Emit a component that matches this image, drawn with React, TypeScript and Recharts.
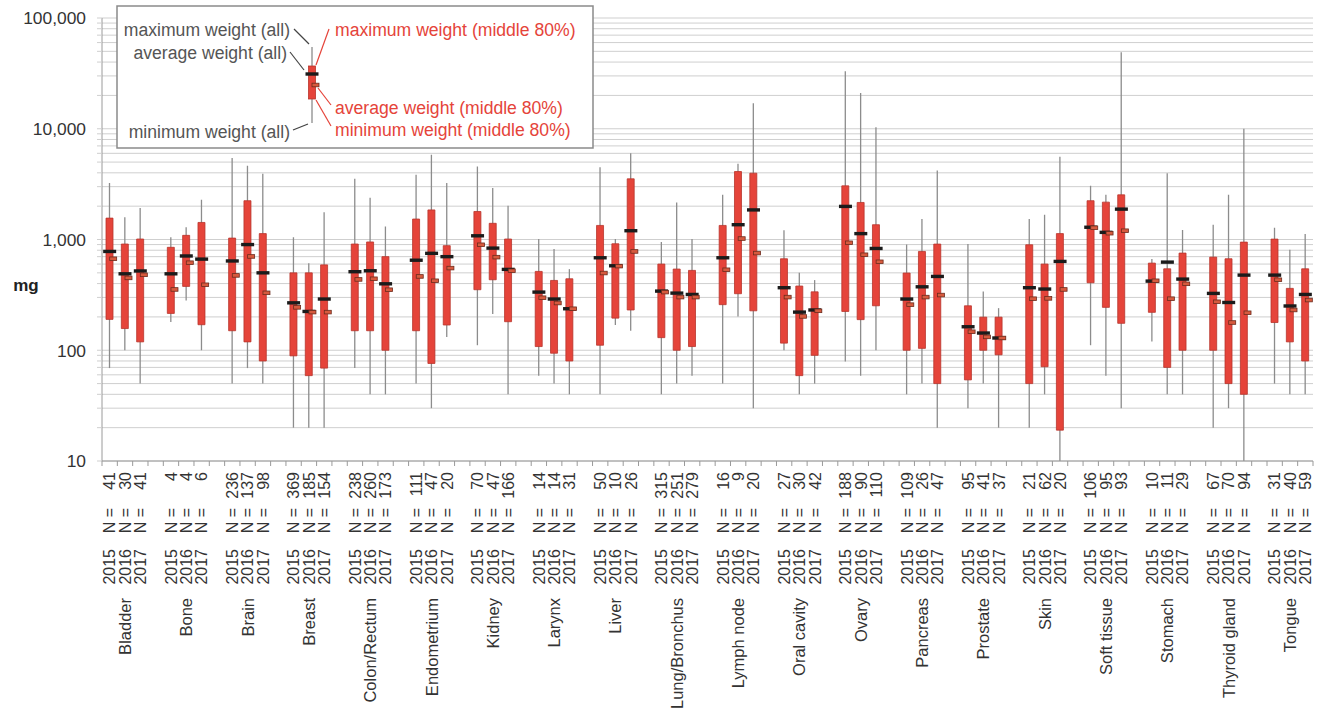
import { Bar, CartesianGrid, ComposedChart, Scatter, XAxis, YAxis } from "recharts";

// one entry per organ, three years each (2015, 2016, 2017)
const organs = [
  "Bladder", "Bone", "Brain", "Breast", "Colon/Rectum", "Endometrium", "Kidney",
  "Larynx", "Liver", "Lung/Bronchus", "Lymph node", "Oral cavity", "Ovary",
  "Pancreas", "Prostate", "Skin", "Soft tissue", "Stomach", "Thyroid gland", "Tongue",
];
const years = ["2015", "2016", "2017"];

const nCounts = [
  41, 30, 41, 4, 4, 6, 236, 137, 98, 369, 185, 154, 238, 260, 173,
  111, 47, 20, 70, 47, 166, 14, 14, 31, 50, 10, 26, 315, 251, 279,
  16, 9, 20, 27, 30, 42, 188, 90, 110, 109, 26, 47, 95, 41, 37,
  21, 62, 20, 106, 95, 93, 10, 11, 29, 67, 70, 94, 31, 40, 59,
];

// weights in mg
const maxAll = [
  3230, 1590, 1920, 1050, 1290, 2280, 5430, 4630, 3920, 1050, 610, 1760, 3530, 2380, 1310,
  3840, 5820, 3230, 4560, 2910, 2020, 1010, 820, 540, 4500, 1010, 6020, 950, 2160, 1010,
  2530, 4820, 17000, 1210, 500, 430, 33000, 21000, 10300, 900, 1530, 4200, 910, 340, 240,
  1530, 1670, 5600, 3050, 2530, 49000, 665, 3970, 1220, 1360, 2530, 10000, 1280, 810, 1120,
];
const boxHigh = [
  1560, 910, 1010, 850, 1090, 1425, 1030, 2240, 1130, 500, 500, 590, 910, 950, 700,
  1530, 1850, 880, 1790, 1400, 1010, 515, 427, 442, 1340, 915, 3530, 600, 541, 526,
  1340, 4110, 3970, 670, 380, 337, 3050, 2160, 1360, 498, 780, 909, 252, 199, 199,
  896, 600, 1130, 2240, 2175, 2530, 612, 544, 754, 693, 670, 947, 1008, 362, 544,
];
const avgAll = [
  780, 490, 520, 490, 710, 665, 640, 900, 500, 268, 224, 290, 512, 522, 398,
  650, 750, 700, 1080, 836, 537, 335, 290, 237, 684, 579, 1200, 342, 328, 319,
  684, 1360, 1850, 367, 221, 231, 1990, 1130, 830, 290, 374, 464, 163, 143, 129,
  367, 357, 634, 1290, 1160, 1880, 421, 625, 439, 326, 270, 477, 477, 251, 319,
];
const avgMid = [
  670, 450, 480, 354, 617, 390, 474, 703, 330, 244, 221, 221, 436, 442, 352,
  464, 424, 552, 896, 693, 522, 298, 267, 237, 498, 575, 780, 335, 302, 302,
  533, 1020, 754, 302, 202, 227, 934, 728, 629, 258, 302, 315, 147, 132, 129,
  292, 294, 354, 1276, 1140, 1200, 424, 292, 398, 274, 178, 218, 433, 231, 284,
];
const boxLow = [
  190, 157, 119, 215, 377, 170, 150, 119, 80, 89, 59, 69, 150, 150, 100,
  150, 76, 169, 352, 433, 181, 108, 94, 80, 111, 195, 231, 130, 100, 108,
  258, 324, 227, 116, 59, 90, 224, 189, 252, 100, 104, 50, 54, 100, 91,
  50, 71, 19, 407, 244, 175, 220, 70, 100, 100, 50, 40, 178, 119, 80,
];
const minAll = [
  69, 100, 50, 180, 282, 100, 50, 69, 50, 20, 20, 20, 69, 40, 40,
  50, 30, 132, 111, 212, 40, 59, 50, 40, 40, 169, 150, 40, 50, 59,
  50, 202, 30, 100, 40, 50, 79, 59, 100, 40, 50, 20, 30, 50, 20,
  20, 40, 10, 111, 59, 30, 120, 40, 40, 20, 30, 10, 50, 40, 40,
];

const yTicks = [10, 100, 1000, 10000]
  .flatMap((d) => [1, 2, 3, 4, 5, 6, 7, 8, 9].map((m) => m * d))
  .concat(100000);

type Row = {
  key: string;
  organ?: string;
  year?: string;
  n?: number;
  whisker?: [number, number];
  box?: [number, number];
  avgAll?: number;
  avgMid?: number;
  mid?: boolean;
};

// empty slot between organs
const rows: Row[] = [];
organs.forEach((organ, i) => {
  years.forEach((year, j) => {
    const k = i * 3 + j;
    rows.push({
      key: `${organ} ${year}`,
      organ,
      year,
      n: nCounts[k],
      whisker: [minAll[k], maxAll[k]],
      box: [boxLow[k], boxHigh[k]],
      avgAll: avgAll[k],
      avgMid: avgMid[k],
      mid: j === 1,
    });
  });
  if (i < organs.length - 1) rows.push({ key: `gap-${i}` });
});

const W = 1318;
const H = 715;
const MARGIN = { top: 18, right: 5, bottom: 14, left: 10 };
const Y_AXIS_W = 92;
const PLOT_W = W - MARGIN.left - MARGIN.right - Y_AXIS_W;
const SLOT = PLOT_W / rows.length;
const FONT = "'Liberation Sans', Arial, sans-serif";
const GRID = "#cfcfcf";
const AXIS = "#9a9a9a";
const RED = "#e5443a";

function YTick(props: any) {
  const { x, y, payload } = props;
  const v = payload.value as number;
  if (![10, 100, 1000, 10000, 100000].includes(v)) return <g />;
  return (
    <text x={x} y={y} dy="0.36em" textAnchor="end" fontSize={17.4} fill="#333" fontFamily={FONT}>
      {v.toLocaleString("en-US")}
    </text>
  );
}

function XTick(props: any) {
  const { x, y, payload } = props;
  const idx = payload.index ?? props.index;
  const row = rows[idx];
  const left = x - SLOT / 2;
  const txt = (dy: number, s: string | number, size = 16) => (
    <text
      transform={`translate(${x},${y + dy}) rotate(-90)`}
      textAnchor="end"
      dy="0.36em"
      fontSize={size}
      fill="#333"
      fontFamily={FONT}
    >
      {s}
    </text>
  );
  return (
    <g>
      <line x1={left} x2={left} y1={y} y2={y + 5} stroke={AXIS} />
      {idx === rows.length - 1 ? (
        <line x1={x + SLOT / 2} x2={x + SLOT / 2} y1={y} y2={y + 5} stroke={AXIS} />
      ) : null}
      {row && row.year ? (
        <>
          {txt(11, row.n ?? "")}
          {txt(47, "N =")}
          {txt(88, row.year)}
        </>
      ) : null}
      {row && row.mid ? txt(137, row.organ ?? "", 16.5) : null}
    </g>
  );
}

function Whisker(props: any) {
  const { x, y, width, height } = props;
  if (!Number.isFinite(y) || !Number.isFinite(height) || !height) return <g />;
  const cx = x + width / 2;
  const top = Math.min(y, y + height);
  return <line x1={cx} x2={cx} y1={top} y2={top + Math.abs(height)} stroke="#8c8c8c" strokeWidth={1.3} />;
}

function BlackDash(props: any) {
  const { cx, cy } = props;
  if (!Number.isFinite(cx) || !Number.isFinite(cy)) return <g />;
  return <rect x={cx - 6.5} y={cy - 1.7} width={13} height={3.4} fill="#1b1b1b" />;
}

function MidDash(props: any) {
  const { cx, cy } = props;
  if (!Number.isFinite(cx) || !Number.isFinite(cy)) return <g />;
  return (
    <rect x={cx} y={cy - 1.8} width={7} height={3.6} fill="#d65a3e" stroke="#6b2b1d" strokeWidth={0.8} />
  );
}

function LegendOverlay() {
  const gray = "#555";
  const fs = 17.6;
  return (
    <svg
      width={W}
      height={H}
      style={{ position: "absolute", left: 0, top: 0, pointerEvents: "none" }}
      fontFamily={FONT}
    >
      <text x={26} y={291} textAnchor="middle" fontSize={17} fontWeight="bold" fill="#222">
        mg
      </text>
      <rect x={117} y={6} width={476} height={142} fill="#fff" stroke="#8a8a8a" strokeWidth={1.5} />
      <text x={290} y={36} textAnchor="end" fontSize={fs} fill={gray}>maximum weight (all)</text>
      <text x={287} y={59} textAnchor="end" fontSize={fs} fill={gray}>average weight (all)</text>
      <text x={290} y={138} textAnchor="end" fontSize={fs} fill={gray}>minimum weight (all)</text>
      <text x={335} y={36} fontSize={fs} fill={RED}>maximum weight (middle 80%)</text>
      <text x={335} y={114} fontSize={fs} fill={RED}>average weight (middle 80%)</text>
      <text x={335} y={136} fontSize={fs} fill={RED}>minimum weight (middle 80%)</text>
      <line x1={312} x2={312} y1={47} y2={123} stroke="#8c8c8c" strokeWidth={1.3} />
      <rect x={308.5} y={66} width={7} height={33} fill={RED} stroke="#b8352c" strokeWidth={0.8} />
      <rect x={305.5} y={72.3} width={13} height={3.4} fill="#1b1b1b" />
      <rect x={312} y={83.2} width={7} height={3.6} fill="#d65a3e" stroke="#6b2b1d" strokeWidth={0.8} />
      <g stroke="#444" strokeWidth={1.2}>
        <line x1={294} y1={29} x2={309} y2={44} />
        <line x1={290} y1={52} x2={304} y2={70} />
        <line x1={293} y1={130} x2={308} y2={124} />
      </g>
      <g stroke={RED} strokeWidth={1.2}>
        <line x1={329} y1={29} x2={316} y2={65} />
        <line x1={331} y1={105} x2={318} y2={88} />
        <line x1={331} y1={126} x2={316} y2={100} />
      </g>
    </svg>
  );
}

export default function App() {
  return (
    <div style={{ position: "absolute", left: 0, top: 0, width: W, height: H, background: "#fff", fontFamily: FONT }}>
      <ComposedChart width={W} height={H} data={rows} margin={MARGIN}>
        <CartesianGrid vertical={false} stroke={GRID} />
        <XAxis
          dataKey="key"
          type="category"
          interval={0}
          tick={<XTick />}
          tickLine={false}
          tickSize={0}
          tickMargin={0}
          height={240}
          axisLine={{ stroke: AXIS }}
        />
        <XAxis xAxisId="w" dataKey="key" type="category" hide />
        <YAxis
          scale="log"
          domain={[10, 100000]}
          allowDataOverflow
          ticks={yTicks}
          interval={0}
          width={Y_AXIS_W}
          tick={<YTick />}
          tickSize={5}
          tickMargin={11}
          tickLine={{ stroke: GRID }}
          axisLine={{ stroke: AXIS }}
        />
        <Bar xAxisId="w" dataKey="whisker" barSize={3} shape={<Whisker />} isAnimationActive={false} />
        <Bar dataKey="box" barSize={7} fill={RED} stroke="#b8352c" strokeWidth={0.8} isAnimationActive={false} />
        <Scatter dataKey="avgAll" shape={<BlackDash />} isAnimationActive={false} />
        <Scatter dataKey="avgMid" shape={<MidDash />} isAnimationActive={false} />
      </ComposedChart>
      <LegendOverlay />
    </div>
  );
}
